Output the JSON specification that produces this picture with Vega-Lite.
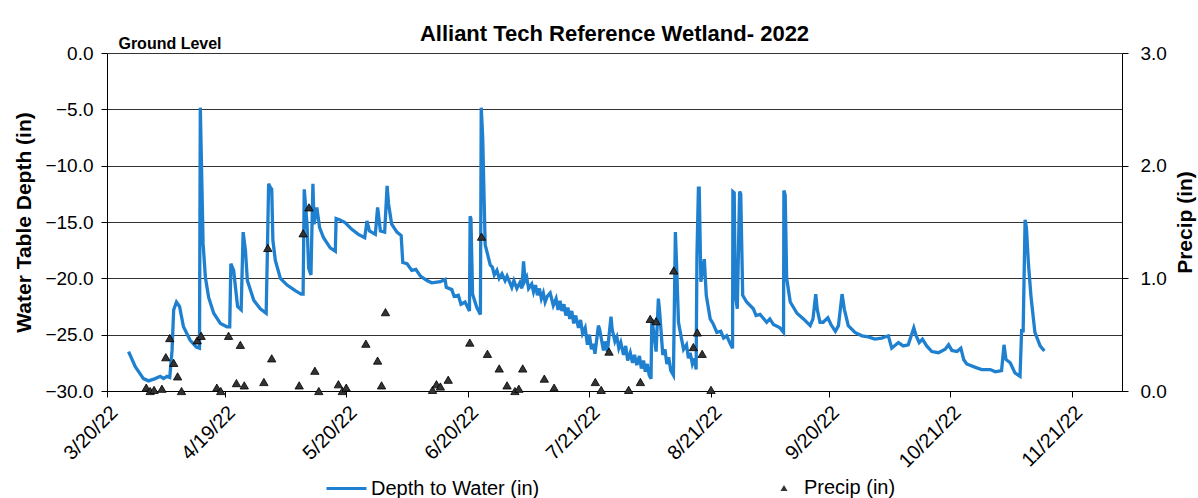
{
  "$schema": "https://vega.github.io/schema/vega-lite/v6.json",
  "autosize": {"type": "none"},
  "width": 1015,
  "height": 338,
  "padding": {"left": 107, "top": 53, "right": 76, "bottom": 107},
  "background": "white",
  "title": {"text": "Alliant Tech Reference Wetland- 2022", "fontSize": 22, "font": "Liberation Sans", "fontWeight": "bold", "anchor": "middle", "offset": -10, "color": "black"},
  "config": {
    "view": {"stroke": null},
    "font": "Liberation Sans",
    "axis": {"labelColor": "black", "titleColor": "black", "domainColor": "black", "tickColor": "black", "labelFont": "Liberation Sans", "titleFont": "Liberation Sans"},
    "legend": {"labelFont": "Liberation Sans", "labelColor": "black", "labelLimit": 400}
  },
  "datasets": {
    "water": [
      {"date": "2022-03-25T12:00", "depth": -26.5},
      {"date": "2022-03-27T05:00", "depth": -27.85},
      {"date": "2022-03-29T07:00", "depth": -28.9},
      {"date": "2022-03-30T14:00", "depth": -29.1},
      {"date": "2022-04-01T07:00", "depth": -28.9},
      {"date": "2022-04-02T14:00", "depth": -28.7},
      {"date": "2022-04-03T10:00", "depth": -28.9},
      {"date": "2022-04-04T07:00", "depth": -28.7},
      {"date": "2022-04-05T00:00", "depth": -28.8},
      {"date": "2022-04-05T14:00", "depth": -26.4},
      {"date": "2022-04-06T00:00", "depth": -22.8},
      {"date": "2022-04-06T17:00", "depth": -22.1},
      {"date": "2022-04-07T12:00", "depth": -22.5},
      {"date": "2022-04-08T12:00", "depth": -24.3},
      {"date": "2022-04-10T05:00", "depth": -25.5},
      {"date": "2022-04-11T19:00", "depth": -26.1},
      {"date": "2022-04-12T14:00", "depth": -26.2},
      {"date": "2022-04-12T19:00", "depth": -4.85},
      {"date": "2022-04-13T12:00", "depth": -16.9},
      {"date": "2022-04-14T02:00", "depth": -19.9},
      {"date": "2022-04-14T22:00", "depth": -21.7},
      {"date": "2022-04-16T05:00", "depth": -23.1},
      {"date": "2022-04-17T22:00", "depth": -24.0},
      {"date": "2022-04-19T14:00", "depth": -24.3},
      {"date": "2022-04-20T07:00", "depth": -24.3},
      {"date": "2022-04-20T14:00", "depth": -18.7},
      {"date": "2022-04-21T07:00", "depth": -19.3},
      {"date": "2022-04-22T07:00", "depth": -22.5},
      {"date": "2022-04-23T05:00", "depth": -22.8},
      {"date": "2022-04-23T17:00", "depth": -15.9},
      {"date": "2022-04-24T07:00", "depth": -17.5},
      {"date": "2022-04-24T19:00", "depth": -20.2},
      {"date": "2022-04-26T10:00", "depth": -21.95},
      {"date": "2022-04-28T02:00", "depth": -22.7},
      {"date": "2022-04-29T14:00", "depth": -23.1},
      {"date": "2022-04-29T22:00", "depth": -17.2},
      {"date": "2022-04-30T05:00", "depth": -11.6},
      {"date": "2022-04-30T14:00", "depth": -11.9},
      {"date": "2022-05-01T00:00", "depth": -12.1},
      {"date": "2022-05-01T07:00", "depth": -16.6},
      {"date": "2022-05-01T22:00", "depth": -18.4},
      {"date": "2022-05-03T05:00", "depth": -20.0},
      {"date": "2022-05-04T22:00", "depth": -20.6},
      {"date": "2022-05-07T00:00", "depth": -21.1},
      {"date": "2022-05-08T12:00", "depth": -21.4},
      {"date": "2022-05-09T00:00", "depth": -21.4},
      {"date": "2022-05-09T07:00", "depth": -12.1},
      {"date": "2022-05-10T00:00", "depth": -15.2},
      {"date": "2022-05-10T10:00", "depth": -19.1},
      {"date": "2022-05-11T00:00", "depth": -19.7},
      {"date": "2022-05-11T12:00", "depth": -11.6},
      {"date": "2022-05-11T19:00", "depth": -15.2},
      {"date": "2022-05-12T12:00", "depth": -13.7},
      {"date": "2022-05-13T05:00", "depth": -15.5},
      {"date": "2022-05-14T05:00", "depth": -16.4},
      {"date": "2022-05-15T22:00", "depth": -17.3},
      {"date": "2022-05-17T05:00", "depth": -17.6},
      {"date": "2022-05-17T10:00", "depth": -14.7},
      {"date": "2022-05-18T07:00", "depth": -14.8},
      {"date": "2022-05-19T17:00", "depth": -15.05},
      {"date": "2022-05-21T10:00", "depth": -15.65},
      {"date": "2022-05-23T02:00", "depth": -16.1},
      {"date": "2022-05-24T17:00", "depth": -16.4},
      {"date": "2022-05-25T07:00", "depth": -14.9},
      {"date": "2022-05-25T22:00", "depth": -15.8},
      {"date": "2022-05-27T10:00", "depth": -16.1},
      {"date": "2022-05-28T00:00", "depth": -13.7},
      {"date": "2022-05-28T17:00", "depth": -15.8},
      {"date": "2022-05-29T19:00", "depth": -15.9},
      {"date": "2022-05-30T10:00", "depth": -11.8},
      {"date": "2022-05-30T19:00", "depth": -13.4},
      {"date": "2022-05-31T14:00", "depth": -15.2},
      {"date": "2022-06-01T22:00", "depth": -15.9},
      {"date": "2022-06-03T00:00", "depth": -16.2},
      {"date": "2022-06-03T10:00", "depth": -18.6},
      {"date": "2022-06-04T12:00", "depth": -18.7},
      {"date": "2022-06-05T17:00", "depth": -19.3},
      {"date": "2022-06-06T18:00", "depth": -19.2},
      {"date": "2022-06-07T22:00", "depth": -19.8},
      {"date": "2022-06-09T14:00", "depth": -20.2},
      {"date": "2022-06-10T19:00", "depth": -20.4},
      {"date": "2022-06-13T00:00", "depth": -20.3},
      {"date": "2022-06-14T05:00", "depth": -20.1},
      {"date": "2022-06-14T12:00", "depth": -20.8},
      {"date": "2022-06-15T22:00", "depth": -21.0},
      {"date": "2022-06-16T12:00", "depth": -21.6},
      {"date": "2022-06-17T14:00", "depth": -21.5},
      {"date": "2022-06-18T06:00", "depth": -22.3},
      {"date": "2022-06-19T07:00", "depth": -22.1},
      {"date": "2022-06-20T10:00", "depth": -22.9},
      {"date": "2022-06-20T14:00", "depth": -14.5},
      {"date": "2022-06-20T19:00", "depth": -14.7},
      {"date": "2022-06-21T05:00", "depth": -21.4},
      {"date": "2022-06-22T07:00", "depth": -22.6},
      {"date": "2022-06-23T05:00", "depth": -23.2},
      {"date": "2022-06-23T10:00", "depth": -4.85},
      {"date": "2022-06-23T19:00", "depth": -7.5},
      {"date": "2022-06-24T10:00", "depth": -17.0},
      {"date": "2022-06-25T17:00", "depth": -18.8},
      {"date": "2022-06-26T06:00", "depth": -19.0},
      {"date": "2022-06-26T18:00", "depth": -19.7},
      {"date": "2022-06-27T10:00", "depth": -19.3},
      {"date": "2022-06-28T00:00", "depth": -20.0},
      {"date": "2022-06-28T17:00", "depth": -19.6},
      {"date": "2022-06-29T12:00", "depth": -20.2},
      {"date": "2022-06-30T00:00", "depth": -19.8},
      {"date": "2022-07-01T05:00", "depth": -20.8},
      {"date": "2022-07-01T18:00", "depth": -20.2},
      {"date": "2022-07-02T12:00", "depth": -20.9},
      {"date": "2022-07-03T06:00", "depth": -20.4},
      {"date": "2022-07-03T19:00", "depth": -20.9},
      {"date": "2022-07-04T05:00", "depth": -18.5},
      {"date": "2022-07-04T14:00", "depth": -20.2},
      {"date": "2022-07-05T00:00", "depth": -19.9},
      {"date": "2022-07-05T12:00", "depth": -20.9},
      {"date": "2022-07-06T07:00", "depth": -20.5},
      {"date": "2022-07-06T18:00", "depth": -21.2},
      {"date": "2022-07-07T06:00", "depth": -20.6},
      {"date": "2022-07-07T18:00", "depth": -21.5},
      {"date": "2022-07-08T06:00", "depth": -20.9},
      {"date": "2022-07-08T18:00", "depth": -21.8},
      {"date": "2022-07-09T06:00", "depth": -21.3},
      {"date": "2022-07-09T17:00", "depth": -22.1},
      {"date": "2022-07-10T06:00", "depth": -21.6},
      {"date": "2022-07-11T00:00", "depth": -21.3},
      {"date": "2022-07-11T19:00", "depth": -22.4},
      {"date": "2022-07-12T12:00", "depth": -21.8},
      {"date": "2022-07-13T00:00", "depth": -22.8},
      {"date": "2022-07-13T12:00", "depth": -22.0},
      {"date": "2022-07-14T00:00", "depth": -22.9},
      {"date": "2022-07-14T12:00", "depth": -22.3},
      {"date": "2022-07-15T00:00", "depth": -23.3},
      {"date": "2022-07-15T12:00", "depth": -22.6},
      {"date": "2022-07-16T00:00", "depth": -23.6},
      {"date": "2022-07-16T12:00", "depth": -22.9},
      {"date": "2022-07-17T00:00", "depth": -24.0},
      {"date": "2022-07-17T12:00", "depth": -23.3},
      {"date": "2022-07-18T05:00", "depth": -24.4},
      {"date": "2022-07-18T18:00", "depth": -23.7},
      {"date": "2022-07-19T06:00", "depth": -24.9},
      {"date": "2022-07-19T22:00", "depth": -24.4},
      {"date": "2022-07-20T12:00", "depth": -25.9},
      {"date": "2022-07-21T00:00", "depth": -25.0},
      {"date": "2022-07-21T12:00", "depth": -26.3},
      {"date": "2022-07-22T00:00", "depth": -25.8},
      {"date": "2022-07-22T10:00", "depth": -26.7},
      {"date": "2022-07-23T07:00", "depth": -24.2},
      {"date": "2022-07-23T14:00", "depth": -24.5},
      {"date": "2022-07-24T14:00", "depth": -26.4},
      {"date": "2022-07-25T00:00", "depth": -25.6},
      {"date": "2022-07-25T14:00", "depth": -26.5},
      {"date": "2022-07-26T12:00", "depth": -23.4},
      {"date": "2022-07-26T19:00", "depth": -24.5},
      {"date": "2022-07-27T12:00", "depth": -25.6},
      {"date": "2022-07-28T00:00", "depth": -25.2},
      {"date": "2022-07-28T12:00", "depth": -26.2},
      {"date": "2022-07-29T00:00", "depth": -25.7},
      {"date": "2022-07-29T17:00", "depth": -26.8},
      {"date": "2022-07-30T06:00", "depth": -26.0},
      {"date": "2022-07-30T18:00", "depth": -27.3},
      {"date": "2022-07-31T10:00", "depth": -26.6},
      {"date": "2022-08-01T00:00", "depth": -27.5},
      {"date": "2022-08-01T12:00", "depth": -26.8},
      {"date": "2022-08-02T02:00", "depth": -27.7},
      {"date": "2022-08-02T18:00", "depth": -26.9},
      {"date": "2022-08-03T06:00", "depth": -28.0},
      {"date": "2022-08-03T19:00", "depth": -27.3},
      {"date": "2022-08-04T06:00", "depth": -28.3},
      {"date": "2022-08-04T18:00", "depth": -27.6},
      {"date": "2022-08-05T06:00", "depth": -28.6},
      {"date": "2022-08-05T17:00", "depth": -28.9},
      {"date": "2022-08-05T22:00", "depth": -23.6},
      {"date": "2022-08-06T07:00", "depth": -24.5},
      {"date": "2022-08-07T00:00", "depth": -26.5},
      {"date": "2022-08-07T14:00", "depth": -21.8},
      {"date": "2022-08-07T22:00", "depth": -23.0},
      {"date": "2022-08-08T17:00", "depth": -26.8},
      {"date": "2022-08-09T06:00", "depth": -26.3},
      {"date": "2022-08-09T18:00", "depth": -27.6},
      {"date": "2022-08-10T05:00", "depth": -27.0},
      {"date": "2022-08-10T18:00", "depth": -28.2},
      {"date": "2022-08-11T10:00", "depth": -28.6},
      {"date": "2022-08-11T22:00", "depth": -15.9},
      {"date": "2022-08-12T05:00", "depth": -18.6},
      {"date": "2022-08-12T17:00", "depth": -23.9},
      {"date": "2022-08-13T12:00", "depth": -25.4},
      {"date": "2022-08-14T00:00", "depth": -26.3},
      {"date": "2022-08-14T18:00", "depth": -25.9},
      {"date": "2022-08-15T06:00", "depth": -27.1},
      {"date": "2022-08-15T17:00", "depth": -26.6},
      {"date": "2022-08-16T06:00", "depth": -27.6},
      {"date": "2022-08-16T18:00", "depth": -27.1},
      {"date": "2022-08-17T05:00", "depth": -28.1},
      {"date": "2022-08-17T10:00", "depth": -18.0},
      {"date": "2022-08-17T19:00", "depth": -12.0},
      {"date": "2022-08-18T00:00", "depth": -12.0},
      {"date": "2022-08-18T10:00", "depth": -20.3},
      {"date": "2022-08-19T07:00", "depth": -18.3},
      {"date": "2022-08-19T19:00", "depth": -21.5},
      {"date": "2022-08-20T19:00", "depth": -23.6},
      {"date": "2022-08-21T12:00", "depth": -24.0},
      {"date": "2022-08-22T12:00", "depth": -24.8},
      {"date": "2022-08-23T12:00", "depth": -24.7},
      {"date": "2022-08-24T05:00", "depth": -25.3},
      {"date": "2022-08-25T00:00", "depth": -25.1},
      {"date": "2022-08-25T22:00", "depth": -25.8},
      {"date": "2022-08-26T12:00", "depth": -26.2},
      {"date": "2022-08-26T14:00", "depth": -12.3},
      {"date": "2022-08-26T22:00", "depth": -12.4},
      {"date": "2022-08-27T05:00", "depth": -21.5},
      {"date": "2022-08-27T17:00", "depth": -22.7},
      {"date": "2022-08-28T07:00", "depth": -12.3},
      {"date": "2022-08-28T14:00", "depth": -12.5},
      {"date": "2022-08-29T02:00", "depth": -21.5},
      {"date": "2022-08-30T02:00", "depth": -22.1},
      {"date": "2022-08-31T19:00", "depth": -22.7},
      {"date": "2022-09-01T12:00", "depth": -23.3},
      {"date": "2022-09-02T12:00", "depth": -23.2},
      {"date": "2022-09-04T05:00", "depth": -23.9},
      {"date": "2022-09-05T00:00", "depth": -23.6},
      {"date": "2022-09-05T22:00", "depth": -24.1},
      {"date": "2022-09-07T14:00", "depth": -24.4},
      {"date": "2022-09-08T12:00", "depth": -24.8},
      {"date": "2022-09-08T14:00", "depth": -12.2},
      {"date": "2022-09-08T22:00", "depth": -12.6},
      {"date": "2022-09-09T07:00", "depth": -20.0},
      {"date": "2022-09-10T05:00", "depth": -22.1},
      {"date": "2022-09-11T22:00", "depth": -23.1},
      {"date": "2022-09-13T14:00", "depth": -23.6},
      {"date": "2022-09-15T07:00", "depth": -24.2},
      {"date": "2022-09-16T00:00", "depth": -23.6},
      {"date": "2022-09-16T17:00", "depth": -21.4},
      {"date": "2022-09-17T02:00", "depth": -22.75},
      {"date": "2022-09-17T19:00", "depth": -23.9},
      {"date": "2022-09-18T14:00", "depth": -23.9},
      {"date": "2022-09-19T19:00", "depth": -23.5},
      {"date": "2022-09-20T14:00", "depth": -24.1},
      {"date": "2022-09-21T17:00", "depth": -24.7},
      {"date": "2022-09-22T12:00", "depth": -24.2},
      {"date": "2022-09-23T10:00", "depth": -21.4},
      {"date": "2022-09-24T00:00", "depth": -22.75},
      {"date": "2022-09-25T00:00", "depth": -24.2},
      {"date": "2022-09-26T17:00", "depth": -24.8},
      {"date": "2022-09-28T12:00", "depth": -25.1},
      {"date": "2022-09-30T02:00", "depth": -25.2},
      {"date": "2022-10-01T19:00", "depth": -25.4},
      {"date": "2022-10-03T12:00", "depth": -25.3},
      {"date": "2022-10-05T05:00", "depth": -25.1},
      {"date": "2022-10-06T02:00", "depth": -26.2},
      {"date": "2022-10-07T19:00", "depth": -25.7},
      {"date": "2022-10-09T00:00", "depth": -26.0},
      {"date": "2022-10-10T07:00", "depth": -25.9},
      {"date": "2022-10-11T17:00", "depth": -24.4},
      {"date": "2022-10-12T07:00", "depth": -25.1},
      {"date": "2022-10-13T02:00", "depth": -25.7},
      {"date": "2022-10-13T22:00", "depth": -25.4},
      {"date": "2022-10-15T00:00", "depth": -26.0},
      {"date": "2022-10-16T07:00", "depth": -26.5},
      {"date": "2022-10-18T00:00", "depth": -26.6},
      {"date": "2022-10-19T17:00", "depth": -26.3},
      {"date": "2022-10-20T14:00", "depth": -25.9},
      {"date": "2022-10-21T10:00", "depth": -26.4},
      {"date": "2022-10-22T17:00", "depth": -26.5},
      {"date": "2022-10-23T17:00", "depth": -26.2},
      {"date": "2022-10-24T10:00", "depth": -27.2},
      {"date": "2022-10-25T05:00", "depth": -27.6},
      {"date": "2022-10-27T10:00", "depth": -27.9},
      {"date": "2022-10-29T00:00", "depth": -28.1},
      {"date": "2022-10-31T05:00", "depth": -28.1},
      {"date": "2022-11-01T12:00", "depth": -28.3},
      {"date": "2022-11-03T02:00", "depth": -28.2},
      {"date": "2022-11-03T17:00", "depth": -25.9},
      {"date": "2022-11-04T05:00", "depth": -27.2},
      {"date": "2022-11-05T07:00", "depth": -27.5},
      {"date": "2022-11-06T12:00", "depth": -28.4},
      {"date": "2022-11-07T19:00", "depth": -28.7},
      {"date": "2022-11-08T05:00", "depth": -24.5},
      {"date": "2022-11-08T14:00", "depth": -24.8},
      {"date": "2022-11-09T02:00", "depth": -14.8},
      {"date": "2022-11-09T10:00", "depth": -15.5},
      {"date": "2022-11-09T22:00", "depth": -18.6},
      {"date": "2022-11-10T14:00", "depth": -21.6},
      {"date": "2022-11-11T14:00", "depth": -24.8},
      {"date": "2022-11-12T22:00", "depth": -26.0},
      {"date": "2022-11-14T00:00", "depth": -26.45}
    ],
    "precip": [
      {"date": "2022-03-30T00:00", "precip": 0.03},
      {"date": "2022-03-31T00:00", "precip": 0.0},
      {"date": "2022-04-01T00:00", "precip": 0.01},
      {"date": "2022-04-03T00:00", "precip": 0.02},
      {"date": "2022-04-04T00:00", "precip": 0.30},
      {"date": "2022-04-05T00:00", "precip": 0.47},
      {"date": "2022-04-06T00:00", "precip": 0.25},
      {"date": "2022-04-07T00:00", "precip": 0.13},
      {"date": "2022-04-08T00:00", "precip": 0.0},
      {"date": "2022-04-12T00:00", "precip": 0.45},
      {"date": "2022-04-13T00:00", "precip": 0.49},
      {"date": "2022-04-17T00:00", "precip": 0.03},
      {"date": "2022-04-18T00:00", "precip": 0.0},
      {"date": "2022-04-20T00:00", "precip": 0.49},
      {"date": "2022-04-22T00:00", "precip": 0.07},
      {"date": "2022-04-23T00:00", "precip": 0.41},
      {"date": "2022-04-24T00:00", "precip": 0.05},
      {"date": "2022-04-29T00:00", "precip": 0.08},
      {"date": "2022-04-30T00:00", "precip": 1.27},
      {"date": "2022-05-01T00:00", "precip": 0.29},
      {"date": "2022-05-08T00:00", "precip": 0.05},
      {"date": "2022-05-09T00:00", "precip": 1.40},
      {"date": "2022-05-10T12:00", "precip": 1.63},
      {"date": "2022-05-12T00:00", "precip": 0.18},
      {"date": "2022-05-13T00:00", "precip": 0.0},
      {"date": "2022-05-18T00:00", "precip": 0.06},
      {"date": "2022-05-19T00:00", "precip": 0.0},
      {"date": "2022-05-20T00:00", "precip": 0.03},
      {"date": "2022-05-25T00:00", "precip": 0.42},
      {"date": "2022-05-28T00:00", "precip": 0.27},
      {"date": "2022-05-29T00:00", "precip": 0.05},
      {"date": "2022-05-30T00:00", "precip": 0.70},
      {"date": "2022-06-11T00:00", "precip": 0.01},
      {"date": "2022-06-12T00:00", "precip": 0.06},
      {"date": "2022-06-13T00:00", "precip": 0.04},
      {"date": "2022-06-15T00:00", "precip": 0.10},
      {"date": "2022-06-20T12:00", "precip": 0.43},
      {"date": "2022-06-23T12:00", "precip": 1.37},
      {"date": "2022-06-25T00:00", "precip": 0.33},
      {"date": "2022-06-28T00:00", "precip": 0.20},
      {"date": "2022-06-30T00:00", "precip": 0.05},
      {"date": "2022-07-02T00:00", "precip": 0.0},
      {"date": "2022-07-03T00:00", "precip": 0.02},
      {"date": "2022-07-04T00:00", "precip": 0.20},
      {"date": "2022-07-09T12:00", "precip": 0.11},
      {"date": "2022-07-12T00:00", "precip": 0.03},
      {"date": "2022-07-22T12:00", "precip": 0.08},
      {"date": "2022-07-24T00:00", "precip": 0.01},
      {"date": "2022-07-26T00:00", "precip": 0.35},
      {"date": "2022-07-31T00:00", "precip": 0.01},
      {"date": "2022-08-03T00:00", "precip": 0.08},
      {"date": "2022-08-05T12:00", "precip": 0.64},
      {"date": "2022-08-07T00:00", "precip": 0.62},
      {"date": "2022-08-11T12:00", "precip": 1.07},
      {"date": "2022-08-16T12:00", "precip": 0.39},
      {"date": "2022-08-17T12:00", "precip": 0.52},
      {"date": "2022-08-18T18:00", "precip": 0.33},
      {"date": "2022-08-21T00:00", "precip": 0.01}
    ]
  },
  "layer": [
    {
      "data": {"name": "water"},
      "mark": {"type": "line", "strokeWidth": 3.3, "interpolate": "linear"},
      "encoding": {
        "x": {
          "field": "date", "type": "temporal",
          "scale": {"domain": [{"year": 2022, "month": 3, "date": 20}, {"year": 2022, "month": 12, "date": 3, "hours": 19}], "nice": false},
          "axis": {
            "values": [
              {"year": 2022, "month": 3, "date": 20},
              {"year": 2022, "month": 4, "date": 19},
              {"year": 2022, "month": 5, "date": 20},
              {"year": 2022, "month": 6, "date": 20},
              {"year": 2022, "month": 7, "date": 21},
              {"year": 2022, "month": 8, "date": 21},
              {"year": 2022, "month": 9, "date": 20},
              {"year": 2022, "month": 10, "date": 21},
              {"year": 2022, "month": 11, "date": 21}
            ],
            "format": "%-m/%-d/%y", "labelAngle": -45, "labelFontSize": 20, "grid": false, "tickSize": 6, "title": null, "labelPadding": 5
          }
        },
        "y": {
          "field": "depth", "type": "quantitative",
          "scale": {"domain": [-30, 0], "nice": false, "zero": false},
          "axis": {
            "orient": "left", "values": [-30, -25, -20, -15, -10, -5, 0], "format": ".1f",
            "labelFontSize": 19, "title": "Water Table Depth (in)", "titleFontSize": 21, "titleFontWeight": "bold",
            "grid": true, "gridColor": "#333", "gridWidth": 1, "gridOpacity": 1, "tickSize": 6, "labelPadding": 8, "titlePadding": 10
          }
        },
        "color": {
          "datum": "Depth to Water (in)",
          "scale": {"range": ["#1f80d0"]},
          "legend": {"orient": "none", "legendX": 218, "legendY": 414, "symbolType": "stroke", "symbolSize": 1600, "symbolStrokeWidth": 3, "labelFontSize": 20, "title": null, "labelOffset": 3}
        }
      }
    },
    {
      "data": {"name": "precip"},
      "mark": {"type": "point", "filled": true, "color": "#333", "stroke": "#000", "strokeWidth": 0.8, "size": 70, "opacity": 1},
      "encoding": {
        "x": {"field": "date", "type": "temporal"},
        "y": {
          "field": "precip", "type": "quantitative",
          "scale": {"domain": [0, 3], "nice": false},
          "axis": {
            "orient": "right", "values": [0, 1, 2, 3], "format": ".1f",
            "labelFontSize": 19, "title": "Precip (in)", "titleFontSize": 21, "titleFontWeight": "bold", "titleAngle": 270, "titleBaseline": "top",
            "grid": false, "tickSize": 6, "labelPadding": 12, "titlePadding": 8
          }
        },
        "shape": {
          "datum": "Precip (in)",
          "scale": {"range": ["triangle-up"]},
          "legend": {"orient": "none", "legendX": 667, "legendY": 425, "symbolFillColor": "#333", "symbolStrokeColor": "#000", "symbolSize": 50, "labelFontSize": 20, "title": null, "labelOffset": 10}
        }
      }
    },
    {
      "data": {"values": [{"label": "Ground Level", "date": "2022-03-22T22:00", "level": 0}]},
      "mark": {"type": "text", "fontSize": 16, "fontWeight": "bold", "align": "left", "baseline": "middle", "dy": -9, "color": "black"},
      "encoding": {
        "text": {"field": "label"},
        "x": {"field": "date", "type": "temporal"},
        "y": {"field": "level", "type": "quantitative", "scale": {"domain": [-30, 0], "nice": false}, "axis": null}
      }
    }
  ],
  "resolve": {"scale": {"y": "independent"}, "axis": {"y": "independent"}}
}
